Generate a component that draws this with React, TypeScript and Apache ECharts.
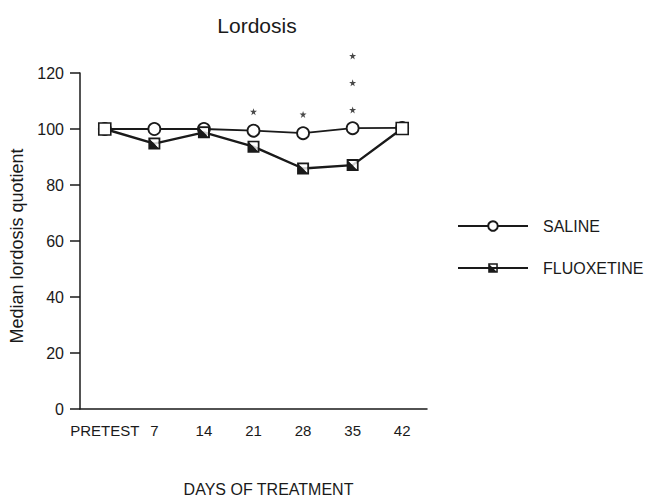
import React, { useEffect, useRef } from "react";
import * as echarts from "echarts";

const categories = ["PRETEST", "7", "14", "21", "28", "35", "42"];
const saline = [100, 100, 100, 99.4, 98.5, 100.3, 100.4];
const fluoxetine = [100, 94.8, 98.8, 93.7, 85.9, 87.1, 100.2];
const openSquareIdx = [0, 6];
const starCats = ["21", "28", "35", "35", "35"];
const starValues = [106.2, 105.2, 106.8, 116.5, 126.1];
const yTicks = { min: 0, max: 120, interval: 20 };

const HOLE_SQUARE = "path://M0,0L10,0L10,10L0,10Z M1.6,1.6L8.4,8.4L8.4,1.6Z";
const WHITE_TRI = "path://M0,0L10,10L10,0Z";
const STAR =
  "path://M5,0L6.18,3.6L10,3.6L6.9,5.9L8.1,9.5L5,7.3L1.9,9.5L3.1,5.9L0,3.6L3.82,3.6Z";

const FONT = "Liberation Sans, Arial, Helvetica, sans-serif";
const INK = "#1a1a1a";

export default function App() {
  const ref = useRef<HTMLDivElement>(null);
  useEffect(() => {
    if (!ref.current) return;
    const chart = echarts.init(ref.current, null, { renderer: "svg" });
    const fluoxData = fluoxetine.map((v, i) =>
      openSquareIdx.includes(i)
        ? {
            value: v,
            symbol: "rect",
            itemStyle: { color: "#fff", borderColor: INK, borderWidth: 1.6 },
          }
        : v
    );
    const triData = fluoxetine.map((v, i) => (openSquareIdx.includes(i) ? "-" : v));
    chart.setOption({
      animation: false,
      backgroundColor: "#fff",
      title: {
        text: "Lordosis",
        left: 252,
        textAlign: "center",
        top: 10,
        textStyle: { fontFamily: FONT, fontSize: 21, fontWeight: "normal", color: INK },
      },
      legend: {
        orient: "vertical",
        left: 452,
        top: 213,
        itemWidth: 70,
        itemHeight: 12,
        itemGap: 26,
        data: ["SALINE", "FLUOXETINE"],
        textStyle: { fontFamily: FONT, fontSize: 16, color: INK, padding: [0, 0, 0, 10] },
      },
      grid: { left: 80, right: 220, top: 73, bottom: 89 },
      xAxis: {
        type: "category",
        data: categories,
        boundaryGap: true,
        name: "DAYS OF TREATMENT",
        nameLocation: "middle",
        nameGap: 72,
        nameTextStyle: { fontFamily: FONT, fontSize: 16, color: INK, padding: [0, 0, 0, 30] },
        axisLine: { lineStyle: { color: INK, width: 1.5 } },
        axisTick: { alignWithLabel: true, length: 7, lineStyle: { color: INK, width: 1.5 } },
        axisLabel: { fontFamily: FONT, fontSize: 15, color: INK, margin: 14, interval: 0 },
        splitLine: { show: false },
      },
      yAxis: {
        type: "value",
        min: yTicks.min,
        max: yTicks.max,
        interval: yTicks.interval,
        name: "Median lordosis quotient",
        nameLocation: "middle",
        nameGap: 45,
        nameTextStyle: { fontFamily: FONT, fontSize: 18, color: INK, padding: [0, 10, 0, 0] },
        axisLine: { show: true, lineStyle: { color: INK, width: 1.5 } },
        axisTick: { show: true, length: 10, lineStyle: { color: INK, width: 1.5 } },
        axisLabel: { fontFamily: FONT, fontSize: 16, color: INK, margin: 16 },
        splitLine: { show: false },
      },
      series: [
        {
          name: "SALINE",
          type: "line",
          data: saline,
          symbol: "circle",
          symbolSize: 12,
          lineStyle: { color: INK, width: 1.8 },
          itemStyle: { color: "#fff", borderColor: INK, borderWidth: 1.8 },
          z: 2,
        },
        {
          name: "FLUOXETINE",
          type: "line",
          data: fluoxData,
          symbol: HOLE_SQUARE,
          symbolSize: 12,
          lineStyle: { color: INK, width: 2.4 },
          itemStyle: { color: INK },
          z: 3,
        },
        {
          name: "fluox-fill",
          type: "scatter",
          data: triData,
          symbol: WHITE_TRI,
          symbolSize: 8.2,
          itemStyle: { color: "#fff" },
          silent: true,
          z: 4,
        },
        {
          name: "significance",
          type: "scatter",
          data: starCats.map((c, i) => [c, starValues[i]]),
          symbol: STAR,
          symbolSize: 7,
          itemStyle: { color: INK },
          clip: false,
          silent: true,
          z: 4,
        },
      ],
    });
    return () => chart.dispose();
  }, []);
  return (
    <div
      ref={ref}
      style={{ position: "fixed", left: 0, top: 0, width: 647, height: 502 }}
    />
  );
}
